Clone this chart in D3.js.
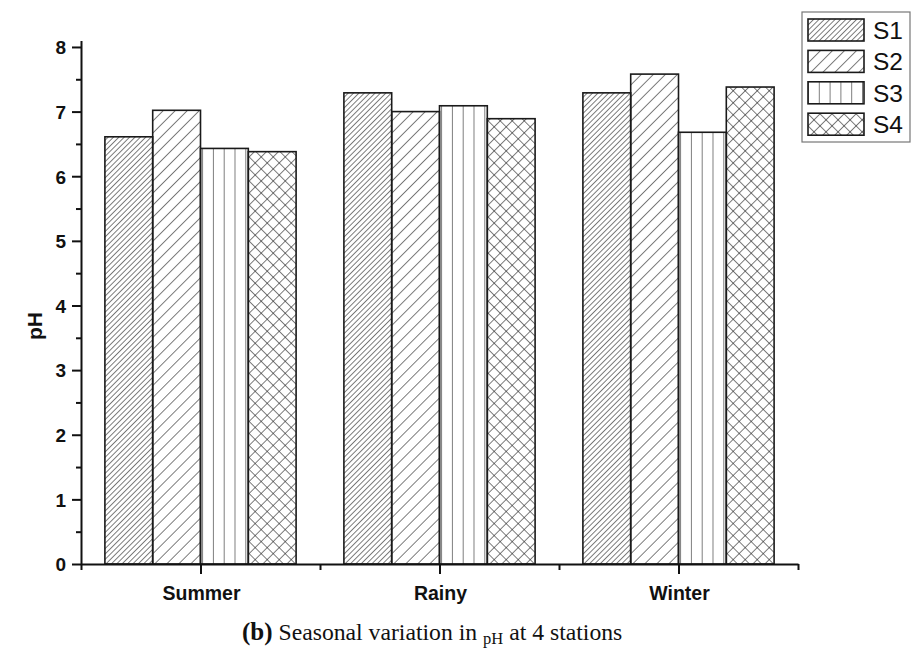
<!DOCTYPE html>
<html>
<head>
<meta charset="utf-8">
<script src="https://cdn.jsdelivr.net/npm/d3@7"></script>
<style>
  body { margin: 0; background: #fff; }
  svg { display: block; }
</style>
</head>
<body>
<div id="chart"></div>
<script>
const seasons = ["Summer", "Rainy", "Winter"];
const stations = ["S1", "S2", "S3", "S4"];
const s1Values = [6.61, 7.29, 7.29];
const s2Values = [7.02, 7.00, 7.58];
const s3Values = [6.43, 7.09, 6.68];
const s4Values = [6.38, 6.89, 7.38];
const yTicks = [0, 1, 2, 3, 4, 5, 6, 7, 8];

const width = 913;
const height = 649;
const plotLeft = 81, plotRight = 798, plotTop = 40.5, plotBottom = 564;

const svg = d3.select("#chart")
    .append("svg")
    .attr("width", width)
    .attr("height", height);

// Hatch patterns
const defs = svg.append("defs");
const ink = "#262626";

function hatch(id, spacing, angle, cross) {
    const p = defs.append("pattern")
        .attr("id", id)
        .attr("patternUnits", "userSpaceOnUse")
        .attr("width", spacing)
        .attr("height", spacing)
        .attr("patternTransform", `rotate(${angle})`);
    p.append("line")
        .attr("x1", 0).attr("y1", 0)
        .attr("x2", 0).attr("y2", spacing)
        .attr("stroke", ink).attr("stroke-width", 1.2);
    if (cross) {
        p.append("line")
            .attr("x1", 0).attr("y1", 0)
            .attr("x2", spacing).attr("y2", 0)
            .attr("stroke", ink).attr("stroke-width", 1.2);
    }
}
hatch("pat-S1", 3.8, 45, false);
hatch("pat-S2", 8.5, 45, false);
hatch("pat-S3", 10.8, 0, false);
hatch("pat-S4", 8.5, 45, true);

const x = d3.scaleBand()
    .domain(seasons)
    .range([plotLeft, plotRight])
    .paddingInner(0.2)
    .paddingOuter(0.1);

const xs = d3.scaleBand()
    .domain(stations)
    .range([0, x.bandwidth()]);

const xPos = d3.scaleLinear().domain([0.5, 3.5]).range([plotLeft, plotRight]);

const y = d3.scaleLinear().domain([0, 8.1]).range([plotBottom, plotTop]);

const series = stations.map((s, i) => ({
    name: s,
    values: [s1Values, s2Values, s3Values, s4Values][i]
}));

// Bars
const groups = svg.append("g")
    .selectAll("g")
    .data(seasons)
    .join("g")
    .attr("transform", d => `translate(${x(d)},0)`);

groups.selectAll("rect")
    .data((d, i) => series.map(s => ({ name: s.name, value: s.values[i] })))
    .join("rect")
    .attr("x", d => xs(d.name))
    .attr("y", d => y(d.value))
    .attr("width", xs.bandwidth())
    .attr("height", d => plotBottom - y(d.value))
    .attr("fill", d => `url(#pat-${d.name})`)
    .attr("stroke", "#1a1a1a")
    .attr("stroke-width", 1.6);

// Y axis
const yAxis = svg.append("g")
    .attr("transform", `translate(${plotLeft},0)`)
    .call(d3.axisLeft(y)
        .tickValues(d3.range(0, 8.01, 0.5))
        .tickSizeOuter(0)
        .tickFormat(d => yTicks.includes(d) ? d : ""));
yAxis.select(".domain").attr("stroke", "#111").attr("stroke-width", 2);
yAxis.selectAll(".tick line")
    .attr("stroke", "#111").attr("stroke-width", 2)
    .attr("x2", d => Number.isInteger(d) ? -9 : -5);
yAxis.selectAll(".tick text")
    .attr("x", -15)
    .attr("dy", "0.36em")
    .attr("fill", "#111")
    .style("font-family", "Liberation Sans, Arial, sans-serif")
    .style("font-size", "19px")
    .style("font-weight", "bold");

// X axis
const xAxis = svg.append("g")
    .attr("transform", `translate(0,${plotBottom})`)
    .call(d3.axisBottom(xPos)
        .tickValues([0.5, 1, 1.5, 2, 2.5, 3, 3.5])
        .tickSizeOuter(0)
        .tickFormat(""));
xAxis.select(".domain").attr("stroke", "#111").attr("stroke-width", 2);
xAxis.selectAll(".tick line")
    .attr("stroke", "#111").attr("stroke-width", 2)
    .attr("y2", d => Number.isInteger(d) ? 10 : 6);

svg.append("g")
    .selectAll("text")
    .data(seasons)
    .join("text")
    .attr("x", (d, i) => xPos(i + 1) + 1)
    .attr("y", 600)
    .attr("text-anchor", "middle")
    .attr("fill", "#111")
    .style("font-family", "Liberation Sans, Arial, sans-serif")
    .style("font-size", "19.5px")
    .style("font-weight", "bold")
    .text(d => d);

// Y axis title
svg.append("text")
    .attr("transform", "translate(42,326) rotate(-90)")
    .attr("text-anchor", "middle")
    .attr("fill", "#111")
    .style("font-family", "Liberation Sans, Arial, sans-serif")
    .style("font-size", "21px")
    .style("font-weight", "bold")
    .text("pH");

// Legend
const legend = svg.append("g");
legend.append("rect")
    .attr("x", 802).attr("y", 12)
    .attr("width", 108).attr("height", 130)
    .attr("fill", "#fff")
    .attr("stroke", "#777")
    .attr("stroke-width", 1.2);

const items = legend.selectAll("g.item")
    .data(stations)
    .join("g")
    .attr("class", "item")
    .attr("transform", (d, i) => `translate(808,${19 + i * 31.4})`);
items.append("rect")
    .attr("width", 56).attr("height", 22)
    .attr("fill", d => `url(#pat-${d})`)
    .attr("stroke", "#1a1a1a")
    .attr("stroke-width", 1.6);
items.append("text")
    .attr("x", 65).attr("y", 20)
    .attr("fill", "#111")
    .style("font-family", "Liberation Sans, Arial, sans-serif")
    .style("font-size", "24.5px")
    .text(d => d);

// Caption
const caption = svg.append("text")
    .attr("x", 242).attr("y", 640)
    .attr("fill", "#111")
    .style("font-family", "Liberation Serif, Times New Roman, serif")
    .style("font-size", "23.7px");
caption.append("tspan").style("font-weight", "bold").style("font-size", "25px").text("(b)");
caption.append("tspan").text(" Seasonal variation in ");
caption.append("tspan").style("font-size", "16.5px").attr("dy", 4).text("pH");
caption.append("tspan").attr("dy", -4).text(" at 4 stations");
</script>
</body>
</html>
